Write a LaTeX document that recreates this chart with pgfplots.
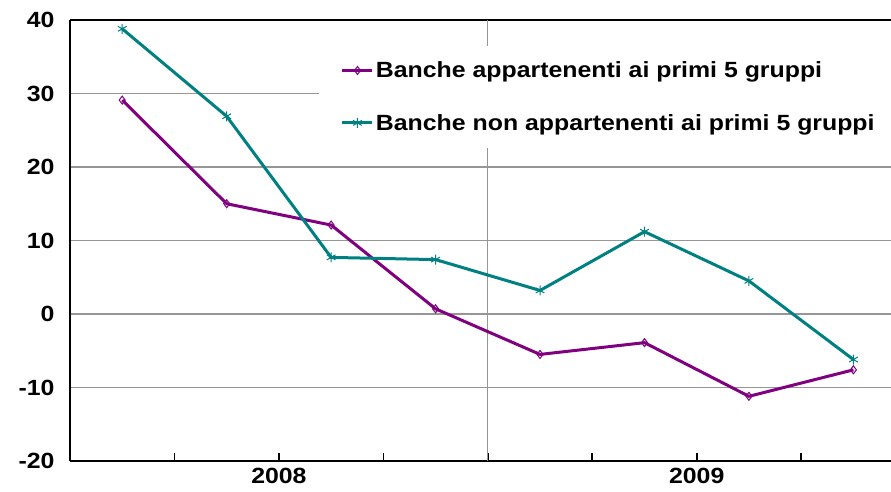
\documentclass[border=0pt]{standalone}
\usepackage{pgfplots}
\pgfplotsset{compat=1.18}
\usepackage{fontspec}
\setmainfont[FakeStretch=1.13]{Liberation Sans}
\definecolor{cpurple}{RGB}{128,0,128}
\definecolor{cteal}{RGB}{0,128,128}
\definecolor{cgrid}{RGB}{150,150,150}

\begin{document}
\begin{tikzpicture}
\begin{axis}[
    scale only axis,
    width=821bp, height=441bp,
    xmin=0, xmax=7.86,
    ymin=-20, ymax=40,
    axis y line*=left,
    axis line style={line width=1.6bp, black, -},
    xtick={1,...,7},
    xticklabels={,2008,,,,2009,},
    xtick pos=left,
    tick align=inside,
    major tick length=8bp,
    xtick style={line width=1.6bp, black},
    ytick={-20,-10,...,40},
    yticklabels={-20,-10,0,10,20,30,40},
    ytick style={draw=none},
    ymajorgrids,
    major grid style={cgrid, line width=1.2bp},
    extra x ticks={4},
    extra x tick labels={},
    extra x tick style={grid=major, major tick length=0pt},
    ticklabel style={font=\bfseries\fontsize{22bp}{26bp}\selectfont},
    yticklabel style={xshift=-12bp},
    xticklabel style={yshift=-4bp},
    legend cell align=left,
    legend style={at={(rel axis cs:0.303,0.942)}, anchor=north west,
        draw=none, fill=white, inner xsep=22bp, inner ysep=14bp,
        row sep=31bp,
        font=\bfseries\fontsize{22bp}{26bp}\selectfont},
    legend image code/.code={
        \draw[mark repeat=2, mark phase=2] plot coordinates {(0bp,0bp) (15bp,0bp) (30bp,0bp)};},
]
\addplot[cpurple, line width=3bp, mark=diamond, mark size=4bp,
    mark options={solid, line width=1bp, fill=white}] coordinates {
    (0.5,29.1) (1.5,15.0) (2.5,12.1) (3.5,0.7)
    (4.5,-5.5) (5.5,-3.9) (6.5,-11.2) (7.5,-7.6)
};
\addlegendentry{Banche appartenenti ai primi 5 gruppi}
\addplot[cteal, line width=3bp, mark=asterisk, mark size=5bp,
    mark options={solid, line width=1bp}] coordinates {
    (0.5,38.8) (1.5,26.9) (2.5,7.7) (3.5,7.4)
    (4.5,3.2) (5.5,11.2) (6.5,4.5) (7.5,-6.2)
};
\addlegendentry{Banche non appartenenti ai primi 5 gruppi}
\coordinate (bl) at ([xshift=-70bp,yshift=-31bp]rel axis cs:0,0);
\coordinate (tr) at ([yshift=20bp]rel axis cs:1,1);
\end{axis}
\pgfresetboundingbox
\path[use as bounding box] (bl) rectangle (tr);
\end{tikzpicture}
\end{document}
